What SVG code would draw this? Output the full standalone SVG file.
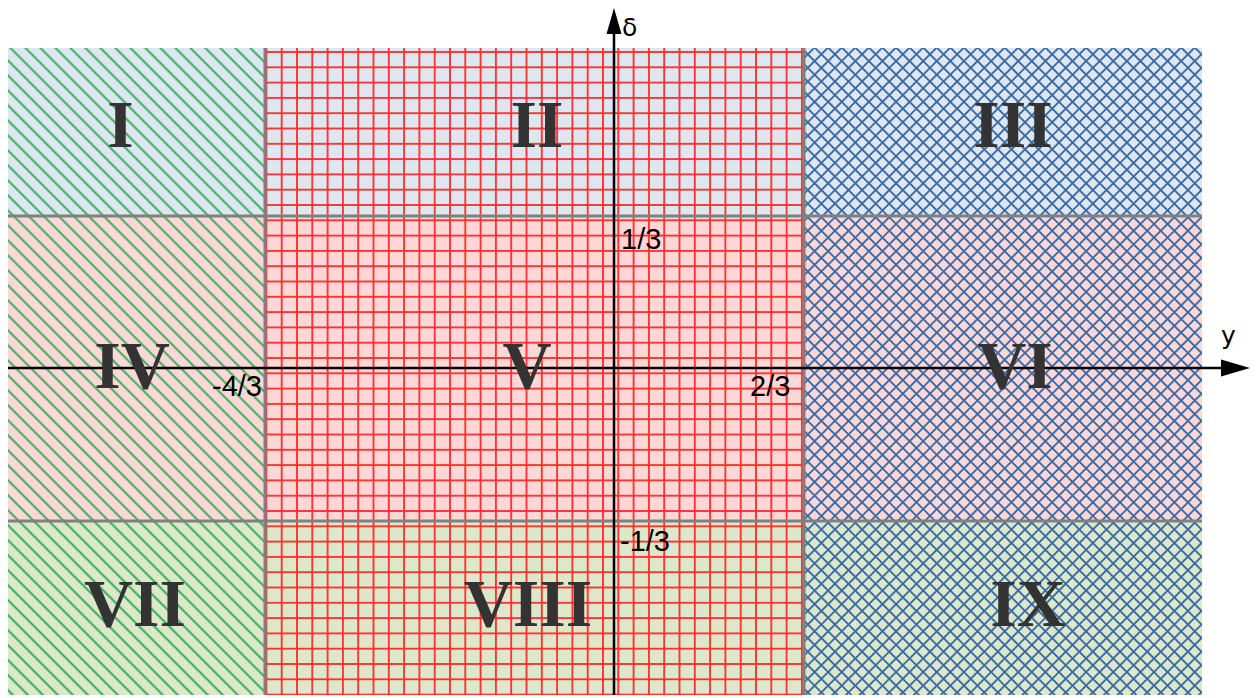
<svg xmlns="http://www.w3.org/2000/svg" width="1257" height="698" viewBox="0 0 1257 698">
<style>
.rn{font-family:"Liberation Serif","Times New Roman",serif;font-weight:bold;font-size:68px;fill:#333333;text-anchor:middle}
.num{font-family:"Liberation Sans",Arial,sans-serif;font-size:29px;fill:#000}
.ax{font-family:"DejaVu Sans","Liberation Sans",sans-serif;font-size:25px;fill:#000}
.bdr{stroke:#808080;stroke-width:3;fill:none}
.axis{stroke:#000;stroke-width:2.5;fill:none}
.blue{fill:#dee6ef}.pink{fill:#ffd7d7}.green{fill:#dde8cb}
</style>
<defs>
<pattern id="pGreen" patternUnits="userSpaceOnUse" width="10.6" height="10.6" patternTransform="rotate(45)">
<line x1="0" y1="5.3" x2="10.6" y2="5.3" stroke="#1aa848" stroke-width="1.8"/>
</pattern>
<pattern id="pBlue" patternUnits="userSpaceOnUse" width="9.6" height="9.6" patternTransform="rotate(45)">
<line x1="0" y1="4.8" x2="9.6" y2="4.8" stroke="#3a6ca8" stroke-width="1.9"/>
<line x1="4.8" y1="0" x2="4.8" y2="9.6" stroke="#3a6ca8" stroke-width="1.9"/>
</pattern>
<pattern id="pRed" patternUnits="userSpaceOnUse" x="274.05" y="197.35" width="15.3" height="15.3">
<line x1="0" y1="7.65" x2="15.3" y2="7.65" stroke="#ff2a2a" stroke-width="1.8"/>
<line x1="7.65" y1="0" x2="7.65" y2="15.3" stroke="#ff2a2a" stroke-width="1.8"/>
</pattern>
</defs>
<rect width="1257" height="698" fill="#ffffff"/>
<g id="region-I"><rect class="blue" x="8" y="48" width="257" height="168"/><rect x="8" y="48" width="257" height="168" fill="url(#pGreen)"/></g>
<g id="region-II"><rect class="blue" x="265" y="48" width="539" height="168"/><rect x="265" y="48" width="539" height="168" fill="url(#pRed)"/></g>
<g id="region-III"><rect class="blue" x="804" y="48" width="398" height="168"/><rect x="804" y="48" width="398" height="168" fill="url(#pBlue)"/></g>
<g id="region-IV"><rect class="pink" x="8" y="216" width="257" height="305"/><rect x="8" y="216" width="257" height="305" fill="url(#pGreen)"/></g>
<g id="region-V"><rect class="pink" x="265" y="216" width="539" height="305"/><rect x="265" y="216" width="539" height="305" fill="url(#pRed)"/></g>
<g id="region-VI"><rect class="pink" x="804" y="216" width="398" height="305"/><rect x="804" y="216" width="398" height="305" fill="url(#pBlue)"/></g>
<g id="region-VII"><rect class="green" x="8" y="521" width="257" height="174"/><rect x="8" y="521" width="257" height="174" fill="url(#pGreen)"/></g>
<g id="region-VIII"><rect class="green" x="265" y="521" width="539" height="174"/><rect x="265" y="521" width="539" height="174" fill="url(#pRed)"/></g>
<g id="region-IX"><rect class="green" x="804" y="521" width="398" height="174"/><rect x="804" y="521" width="398" height="174" fill="url(#pBlue)"/></g>
<g id="borders">
<line class="bdr" x1="265" y1="48" x2="265" y2="695"/>
<line class="bdr" x1="804" y1="48" x2="804" y2="695"/>
<line class="bdr" x1="8" y1="216" x2="1202" y2="216"/>
<line class="bdr" x1="8" y1="521" x2="1202" y2="521"/>
</g>
<g id="connectors">
<line class="axis" x1="8" y1="368" x2="1224" y2="368"/>
<polygon points="1221,359.5 1250,368 1221,376.5" fill="#000"/>
<line class="axis" x1="614" y1="695" x2="614" y2="32"/>
<polygon points="606.5,34 614,8 621.5,34" fill="#000"/>
</g>
<g id="labels">
<text class="rn" x="120.5" y="147">I</text>
<text class="rn" x="537" y="147">II</text>
<text class="rn" x="1013" y="147">III</text>
<text class="rn" x="132" y="388">IV</text>
<text class="rn" x="527" y="388">V</text>
<text class="rn" x="1015" y="388">VI</text>
<text class="rn" x="135" y="626">VII</text>
<text class="rn" x="528" y="626">VIII</text>
<text class="rn" x="1028" y="626">IX</text>
<text class="num" x="262" y="396" text-anchor="end">-4/3</text>
<text class="num" x="750" y="396">2/3</text>
<text class="num" x="621" y="249">1/3</text>
<text class="num" x="620" y="551">-1/3</text>
<text class="ax" x="622" y="36">δ</text>
<text class="ax" x="1221" y="344">y</text>
</g>
</svg>
